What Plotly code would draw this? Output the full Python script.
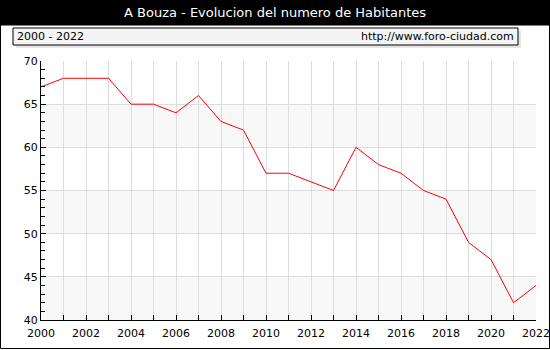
import plotly.graph_objects as go

years = list(range(2000, 2023))
habitantes = [67, 68, 68, 68, 65, 65, 64, 66, 63, 62, 57, 57, 56, 55, 60, 58, 57, 55, 54, 49, 47, 42, 44]
title_text = "A Bouza - Evolucion del numero de Habitantes"
period_text = "2000 - 2022"
url_text = "http://www.foro-ciudad.com"
x_ticks = list(range(2000, 2023, 2))
y_ticks = [40, 45, 50, 55, 60, 65, 70]
bands = [(40, 45), (50, 55), (60, 65)]

W, H = 550, 350
L, R, T, B = 41, 14, 61, 30
pw, ph = W - L - R, H - T - B

def px(x):
    return (x - L) / pw

def py(y):
    return (H - B - y) / ph

fig = go.Figure()
fig.add_trace(go.Scatter(x=years, y=habitantes, mode="lines",
                         line=dict(color="#ff0000", width=1), hoverinfo="skip"))

shapes = []
for a, b in bands:
    shapes.append(dict(type="rect", xref="paper", yref="y", x0=0, x1=1, y0=a, y1=b,
                       fillcolor="#f8f8f8", line=dict(width=0), layer="below"))
# title bar
shapes.append(dict(type="rect", xref="paper", yref="paper", x0=px(0), x1=px(W), y0=py(0), y1=py(25),
                   fillcolor="black", line=dict(width=0)))
# info box shadow and box
shapes.append(dict(type="rect", xref="paper", yref="paper", x0=px(16), x1=px(521), y0=py(31), y1=py(48),
                   fillcolor="#e4e4e4", line=dict(width=0)))
shapes.append(dict(type="rect", xref="paper", yref="paper", x0=px(13), x1=px(518), y0=py(28), y1=py(45),
                   fillcolor="#f4f4f4", line=dict(color="black", width=1)))
# outer border
shapes.append(dict(type="rect", xref="paper", yref="paper", x0=px(0.5), x1=px(W - 0.5), y0=py(25), y1=py(H - 1.5),
                   fillcolor="rgba(0,0,0,0)", line=dict(color="black", width=1)))

fig.update_layout(
    width=W, height=H,
    margin=dict(l=L, r=R, t=T, b=B, autoexpand=False),
    paper_bgcolor="white", plot_bgcolor="white",
    showlegend=False,
    font=dict(family="DejaVu Sans", size=11, color="black"),
    shapes=shapes,
    annotations=[
        dict(text=title_text, xref="paper", yref="paper", x=px(W / 2), y=py(12.5),
             showarrow=False, font=dict(color="white", size=13), xanchor="center", yanchor="middle"),
        dict(text=period_text, xref="paper", yref="paper", x=px(15), y=py(36.5),
             showarrow=False, font=dict(size=11), xanchor="left", yanchor="middle"),
        dict(text=url_text, xref="paper", yref="paper", x=px(516), y=py(36.5),
             showarrow=False, font=dict(size=11), xanchor="right", yanchor="middle"),
    ],
    xaxis=dict(range=[2000, 2022], tickvals=x_ticks, ticktext=[str(v) for v in x_ticks],
               automargin=False, ticklabelstandoff=3,
               ticks="inside", ticklen=5, tickcolor="black", showline=True, linecolor="black",
               showgrid=True, gridcolor="#dddddd", zeroline=False,
               minor=dict(dtick=1, tick0=2000, ticks="inside", ticklen=5, tickcolor="black",
                          showgrid=True, gridcolor="#dddddd")),
    yaxis=dict(range=[40, 70], tickvals=y_ticks, ticks="inside", ticklen=5, tickcolor="black",
               automargin=False,
               showline=True, linecolor="black", showgrid=True, gridcolor="#dddddd", zeroline=False,
               minor=dict(dtick=1, tick0=40, ticks="inside", ticklen=4, tickcolor="black", showgrid=False)),
)

fig.write_html("out.html", config={"displayModeBar": False},
               post_script="document.body.style.margin='0';document.body.style.overflow='hidden';")
